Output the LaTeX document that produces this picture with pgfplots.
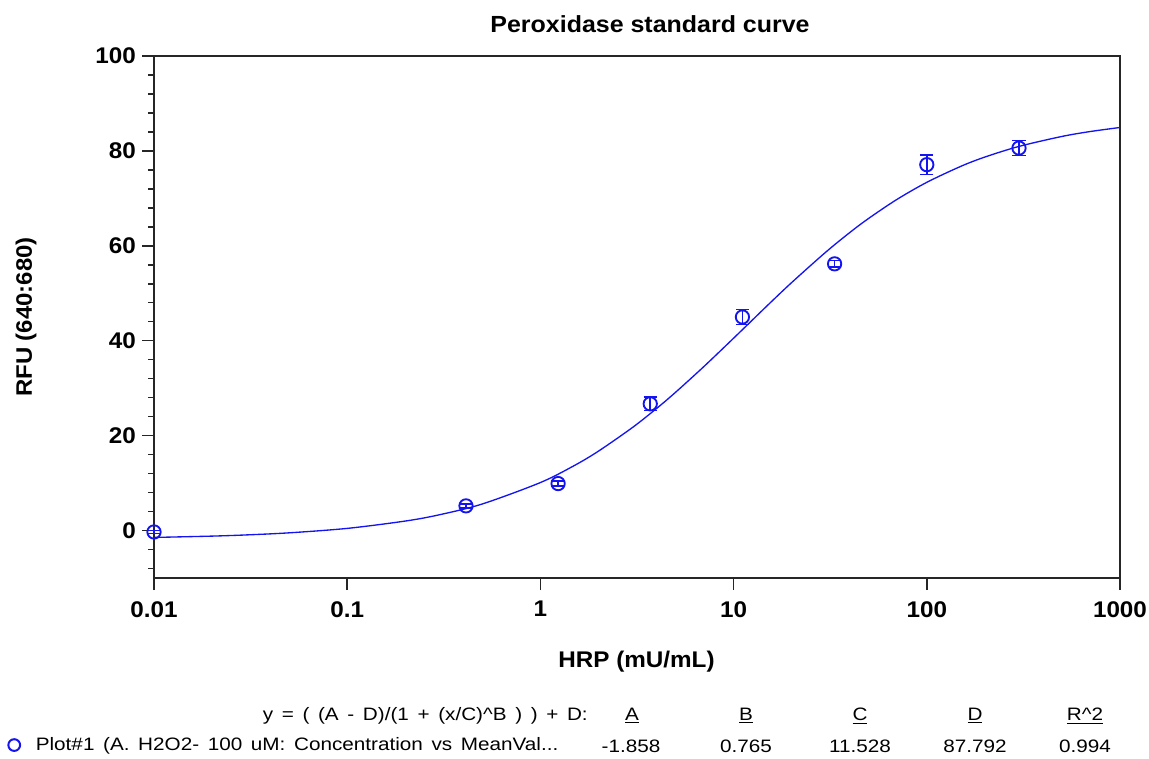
\documentclass[border=0pt]{standalone}
\usepackage{fontspec}
\setmainfont{Liberation Sans}
\newfontfamily\bfam[FakeStretch=1.07]{Liberation Sans}
\newfontfamily\lfam[FakeStretch=1.15,WordSpace=1.5]{Liberation Sans}
\usepackage{pgfplots}
\pgfplotsset{compat=1.18}
\definecolor{curveblue}{RGB}{20,20,240}
\begin{document}
\begin{tikzpicture}[x=0.75pt,y=0.75pt]
\useasboundingbox (0,0) rectangle (1149,758);
\begin{axis}[
  at={(115.5pt,135pt)}, anchor=south west,
  scale only axis, width=724.5pt, height=391.5pt,
  xmode=log, log basis x=10,
  xmin=0.01, xmax=1000, ymin=-10, ymax=100,
  xtick={0.01,0.1,1,10,100,1000},
  xticklabels={0.01,0.1,1,10,100,1000},
  ytick={0,20,40,60,80,100},
  yticklabels={0,20,40,60,80,100},
  minor ytick={-8,-4,4,8,12,16,24,28,32,36,44,48,52,56,64,68,72,76,84,88,92,96},
  tick align=outside,
  major tick length=9pt, minor tick length=4.5pt,
  xtick pos=bottom, ytick pos=left,
  axis line style={line width=1.3pt, black!85},
  every tick/.style={line width=1.1pt, black!85},
  tick label style={font=\bfam\bfseries\fontsize{17}{18}\selectfont},
  xticklabel style={yshift=-5pt},
  yticklabel style={xshift=-1pt},
  xlabel={HRP (mU/mL)},
  ylabel={RFU (640:680)},
  xlabel style={font=\bfam\bfseries\fontsize{17}{18}\selectfont,
    at={(axis description cs:0.4995,-0.161)}, anchor=center},
  ylabel style={font=\bfam\bfseries\fontsize{16.8}{18}\selectfont,
    at={(axis description cs:-0.1325,0.5)}, anchor=center},
  title={Peroxidase standard curve},
  title style={font=\bfam\bfseries\fontsize{17.5}{18}\selectfont,
    at={(axis description cs:0.5135,1.045)}, anchor=center},
  clip=false,
  legend style={at={(-0.1542,-0.320)}, anchor=west, draw=none, fill=none,
    font=\lfam\fontsize{13.5}{14}\selectfont, inner sep=0pt,
    nodes={inner sep=1.5pt}},
  legend cell align=left,
  legend image code/.code={
    \path (0pt,0pt) (21pt,0pt);
    \draw[#1, mark size=4.4pt, mark options={line width=1.5pt}] plot coordinates {(6.5pt,0pt)};
  },
]
\addplot[curveblue, line width=1pt, smooth, forget plot] coordinates {
(0.01,-1.452) (0.02,-1.171) (0.03,-0.923) (0.05,-0.483) (0.1,0.453)
(0.2,2.002) (0.3,3.323) (0.5,5.595) (1,10.111) (1.5,13.709) (2,16.745)
(3,21.731) (4,25.749) (5,29.112) (7,34.517) (10,40.531) (15,47.467)
(20,52.275) (30,58.670) (40,62.821) (50,65.777) (70,69.768) (100,73.381)
(150,76.750) (200,78.711) (300,80.949) (500,83.044) (700,84.078) (1000,84.936)
};
\addplot[curveblue, only marks, mark=o, mark size=5pt,
  mark options={line width=1.4pt},
  error bars/.cd, y dir=both, y explicit,
  error bar style={line width=1.2pt, curveblue},
  error mark options={rotate=90, mark size=5pt, line width=1.2pt, curveblue}]
coordinates {
(0.01,-0.3) +- (0,0.3)
(0.412,5.2) +- (0,0.4)
(1.235,9.9) +- (0,0.5)
(3.704,26.7) +- (0,1.4)
(11.11,45.0) +- (0,1.6)
(33.33,56.2) +- (0,0.7)
(100,77.1) +- (0,2.1)
(300,80.6) +- (0,1.6)
};
\addlegendentry{Plot\#1 (A. H2O2- 100 uM: Concentration vs MeanVal...}
\end{axis}
\begin{scope}[every node/.style={font=\lfam\fontsize{13.5}{14}\selectfont, inner sep=0pt}]
\node[anchor=east] at (588,42) {y = ( (A - D)/(1 + (x/C)\^{}B ) ) + D:};
\node at (632,42) {\underline{A}};
\node at (746,42) {\underline{B}};
\node at (860,42) {\underline{C}};
\node at (975,42) {\underline{D}};
\node at (1085,42) {\underline{R\^{}2}};
\node at (631,12) {-1.858};
\node at (746,12) {0.765};
\node at (860,12) {11.528};
\node at (975,12) {87.792};
\node at (1085,12) {0.994};
\end{scope}
\end{tikzpicture}
\end{document}
